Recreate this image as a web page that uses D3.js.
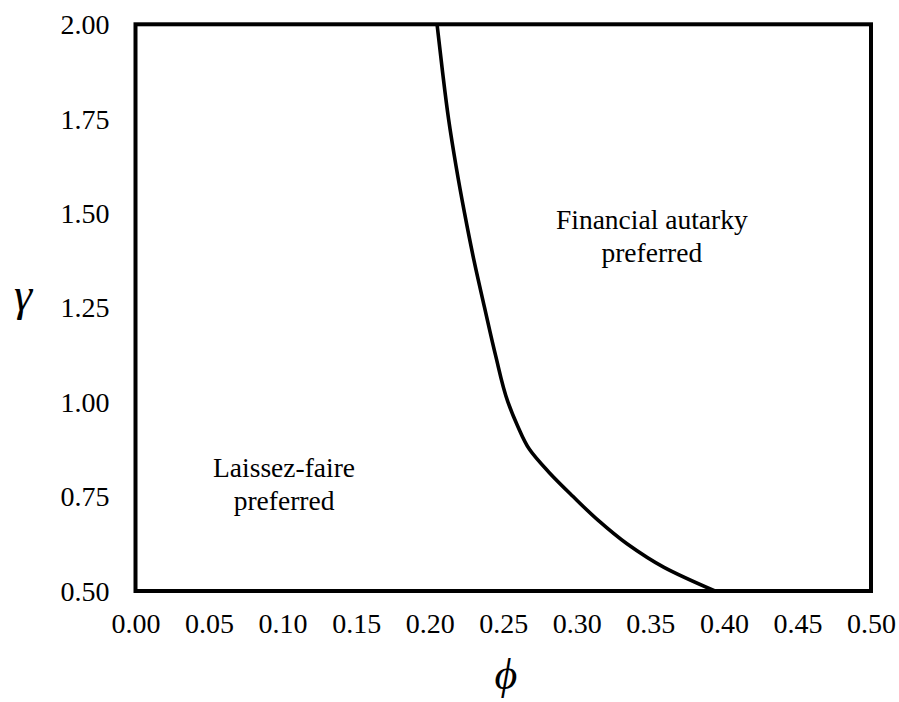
<!DOCTYPE html>
<html>
<head>
<meta charset="utf-8">
<script src="https://cdn.jsdelivr.net/npm/d3@7"></script>
<style>
  html, body { margin: 0; padding: 0; background: #fff; }
</style>
</head>
<body>
<svg id="chart" width="899" height="702"></svg>
<script>
// Indifference boundary: gamma (risk aversion) against phi
const gammaValues = [2.0, 1.875, 1.75, 1.625, 1.5, 1.375, 1.25, 1.125, 1.0, 0.9375, 0.875, 0.8125, 0.75, 0.6875, 0.625, 0.5625, 0.5];
const phiValues   = [0.205, 0.2087, 0.2128, 0.2179, 0.2237, 0.2301, 0.2373, 0.2447, 0.2532, 0.2597, 0.2678, 0.2815, 0.2975, 0.3144, 0.3341, 0.3593, 0.3939];

const xTicks = [0.00, 0.05, 0.10, 0.15, 0.20, 0.25, 0.30, 0.35, 0.40, 0.45, 0.50];
const yTicks = [0.50, 0.75, 1.00, 1.25, 1.50, 1.75, 2.00];

const regionLabels = [
  { lines: ["Financial autarky", "preferred"], phi: 0.351, gamma: 1.458 },
  { lines: ["Laissez-faire", "preferred"], phi: 0.101, gamma: 0.802 }
];

const serif = "'Liberation Serif', 'Times New Roman', Times, serif";

const svg = d3.select("#chart").attr("font-family", serif);
const plotLeft = 135.5, plotRight = 871, plotTop = 24.3, plotBottom = 591;

const x = d3.scaleLinear().domain([0, 0.5]).range([plotLeft, plotRight]);
const y = d3.scaleLinear().domain([0.5, 2.0]).range([plotBottom, plotTop]);

// x axis labels
const xAxis = d3.axisBottom(x).tickValues(xTicks).tickSize(0).tickPadding(0)
  .tickFormat(d3.format(".2f"));
const gx = svg.append("g").attr("transform", `translate(0,${plotBottom})`).call(xAxis)
  .attr("font-family", serif).attr("font-size", 28);
gx.select(".domain").remove();
gx.selectAll("text").attr("dy", null).attr("y", 42).attr("fill", "#000");

// y axis labels
const yAxis = d3.axisLeft(y).tickValues(yTicks).tickSize(0).tickPadding(26)
  .tickFormat(d3.format(".2f"));
const gy = svg.append("g").attr("transform", `translate(${plotLeft},0)`).call(yAxis)
  .attr("font-family", serif).attr("font-size", 28);
gy.select(".domain").remove();
gy.selectAll("text").attr("dy", "0.33em").attr("fill", "#000");

// boundary curve
const pts = gammaValues.map((g, i) => [phiValues[i], g]);
const line = d3.line().x(d => x(d[0])).y(d => y(d[1])).curve(d3.curveMonotoneY);
svg.append("path").datum(pts).attr("d", line)
  .attr("fill", "none").attr("stroke", "#000").attr("stroke-width", 3.6)
  .attr("stroke-linejoin", "round");

// plot frame
svg.append("rect").attr("x", plotLeft).attr("y", plotTop)
  .attr("width", plotRight - plotLeft).attr("height", plotBottom - plotTop)
  .attr("fill", "none").attr("stroke", "#000").attr("stroke-width", 4);

// region annotations
regionLabels.forEach(r => {
  const t = svg.append("text").attr("text-anchor", "middle").attr("font-size", 27.5)
    .attr("x", x(r.phi)).attr("y", y(r.gamma));
  r.lines.forEach((s, i) => {
    t.append("tspan").attr("x", x(r.phi)).attr("dy", i === 0 ? 0 : 33).text(s);
  });
});

// axis titles
svg.append("text").attr("x", 506).attr("y", 689).attr("text-anchor", "middle")
  .attr("font-size", 44).attr("font-style", "italic").text("\u03D5");
svg.append("text").attr("x", 23).attr("y", 310).attr("text-anchor", "middle")
  .attr("font-size", 46).attr("font-style", "italic").text("\u03B3");
</script>
</body>
</html>
